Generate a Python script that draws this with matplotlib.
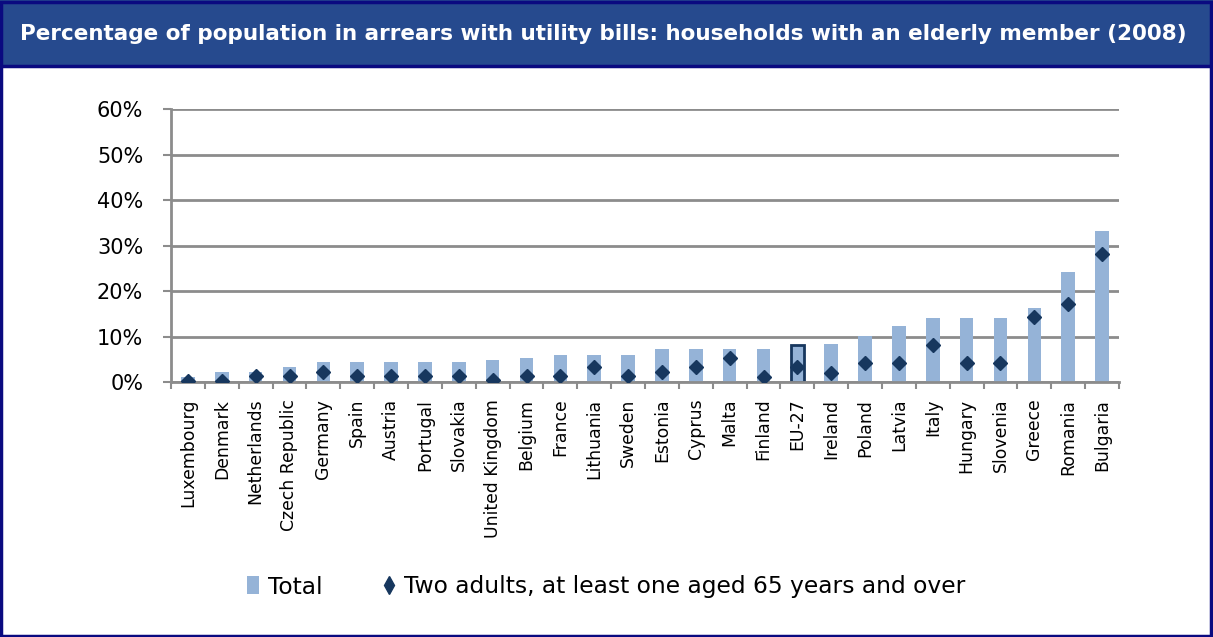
import numpy as np
import matplotlib
matplotlib.use('Agg')
import matplotlib.pyplot as plt
from matplotlib.patches import Rectangle
from matplotlib.lines import Line2D
from matplotlib.ticker import PercentFormatter

# Data
countries = ['Luxembourg', 'Denmark', 'Netherlands', 'Czech Republic', 'Germany', 'Spain',
             'Austria', 'Portugal', 'Slovakia', 'United Kingdom', 'Belgium', 'France',
             'Lithuania', 'Sweden', 'Estonia', 'Cyprus', 'Malta', 'Finland', 'EU-27',
             'Ireland', 'Poland', 'Latvia', 'Italy', 'Hungary', 'Slovenia', 'Greece',
             'Romania', 'Bulgaria']
total = [1.0, 2.3, 2.3, 3.2, 4.4, 4.4, 4.4, 4.4, 4.4, 4.8, 5.2, 6.0, 6.0, 6.0,
         7.2, 7.2, 7.2, 7.2, 8.2, 8.3, 10.1, 12.2, 14.1, 14.1, 14.1, 16.2, 24.1, 33.2]
elderly = [0.2, 0.2, 1.3, 1.3, 2.3, 1.3, 1.3, 1.3, 1.3, 0.4, 1.3, 1.3, 3.3, 1.3,
           2.2, 3.2, 5.3, 1.2, 3.2, 2.0, 4.2, 4.2, 8.1, 4.2, 4.2, 14.2, 17.1, 28.2]
yticks = [0, 10, 20, 30, 40, 50, 60]

BAR = '#95B3D7'
DARK = '#17375E'
GRID = '#8C8C8C'
FONT = 'DejaVu Sans'

fig = plt.figure(figsize=(12.13, 6.37), dpi=100)

# Title band and frame
fig.add_artist(Rectangle((0, 1 - 66 / 637), 1, 66 / 637, transform=fig.transFigure,
                         facecolor='#264A8E', edgecolor='none', zorder=0))
fig.add_artist(Rectangle((0.001, 0.002), 0.997, 0.995, transform=fig.transFigure,
                         facecolor='none', edgecolor='#0A0A80', linewidth=2.5, zorder=5))
fig.add_artist(Line2D([0, 1], [1 - 66 / 637] * 2, transform=fig.transFigure,
                      color='#0A0A80', linewidth=2.5, zorder=5))
fig.text(20 / 1213, 1 - 34 / 637,
         'Percentage of population in arrears with utility bills: households with an elderly member (2008)',
         color='white', fontsize=15.45, fontweight='bold', family=FONT, va='center', ha='left')

ax = fig.add_axes([171 / 1213, 1 - 382 / 637, (1119 - 171) / 1213, (382 - 109) / 637])
x = np.arange(len(countries))
edges = [DARK if c == 'EU-27' else 'none' for c in countries]
lws = [2 if c == 'EU-27' else 0 for c in countries]
ax.bar(x, total, width=0.4, color=BAR, edgecolor=edges, linewidth=lws, zorder=2,
       label='Total')
ax.plot(x, elderly, linestyle='none', marker='D', markersize=7.5, color=DARK, zorder=3,
        label='Two adults, at least one aged 65 years and over')

ax.set_xlim(-0.5, len(countries) - 0.5)
ax.set_ylim(0, 60)
ax.set_yticks(yticks)
ax.yaxis.set_major_formatter(PercentFormatter(decimals=0))
ax.set_xticks(x)
ax.set_xticklabels(countries, rotation=90, family=FONT, fontsize=12.4)
ax.set_xticks(np.arange(-0.5, len(countries)), minor=True)
ax.tick_params(axis='x', which='major', length=0, pad=12)
ax.tick_params(axis='x', which='minor', length=5, width=1.5, color=GRID, direction='out')
ax.tick_params(axis='y', length=6, width=1.5, color=GRID, pad=14, labelsize=15)
for lab in ax.get_yticklabels():
    lab.set_family(FONT)

ax.grid(axis='y', color=GRID, linewidth=2, zorder=0)
ax.set_axisbelow(True)
for side in ['top', 'right']:
    ax.spines[side].set_visible(False)
for side in ['left', 'bottom']:
    ax.spines[side].set_color(GRID)
    ax.spines[side].set_linewidth(2)

handles = [Rectangle((0, 0), 1, 1, facecolor=BAR, edgecolor='none'),
           Line2D([], [], linestyle='none', marker='d', markersize=9, color=DARK)]
fig.legend(handles, ['Total', 'Two adults, at least one aged 65 years and over'],
           loc='center', bbox_to_anchor=(0.5, 1 - 587 / 637), ncol=2, frameon=False,
           prop={'family': FONT, 'size': 16.8}, handlelength=0.5, handleheight=0.8,
           handletextpad=0.4, columnspacing=2.6)

fig.savefig('out.png', dpi=100)
